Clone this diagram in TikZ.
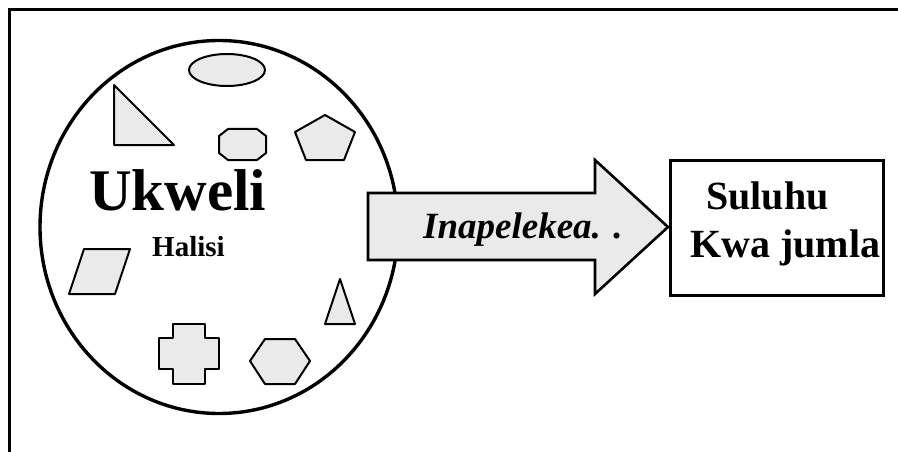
\documentclass[tikz,border=0pt]{standalone}
\usepackage{fontspec}
\setmainfont{Liberation Serif}
\usetikzlibrary{shapes.geometric}
\definecolor{shapegray}{RGB}{234,234,234}
\tikzset{
  shp/.style={draw=black, fill=shapegray, line width=2pt, line join=round},
  lbl/.style={inner sep=0pt, anchor=base west, font=\bfseries},
}
\begin{document}
\begin{tikzpicture}[x=1pt,y=-1pt]
\useasboundingbox (0,0) rectangle (898,452);
% frame
\draw[line width=3pt] (9,452) -- (9,10) -- (898,10);
% big circle
\node (world) [draw, line width=3.4pt, ellipse, minimum width=358pt, minimum height=373pt, inner sep=0pt] at (219,227) {};
% shapes inside
\node (oval) [shp, ellipse, minimum width=76pt, minimum height=32pt, inner sep=0pt] at (227,70) {};
\draw[shp] (114,85) -- (114,145) -- (174,145) -- cycle;
\draw[shp] (228,129) -- (257,129) -- (266,136) -- (266,153) -- (257,160) -- (228,160) -- (219,153) -- (219,136) -- cycle;
\draw[shp] (325,115) -- (355,132) -- (344,160) -- (306,160) -- (295,132) -- cycle;
\draw[shp] (84,249) -- (130,249) -- (115,294) -- (69,294) -- cycle;
\draw[shp] (340,279) -- (355,324) -- (325,324) -- cycle;
\draw[shp] (173,324) -- (205,324) -- (205,338) -- (219,338) -- (219,369) -- (205,369) -- (205,384) -- (173,384) -- (173,369) -- (159,369) -- (159,338) -- (173,338) -- cycle;
\draw[shp] (265,339) -- (295,339) -- (310,361) -- (295,384) -- (265,384) -- (250,361) -- cycle;
% texts in circle
\node (ukweli) [lbl, font=\fontsize{59}{60}\selectfont\bfseries] at (89,210) {Ukweli};
\node (halisi) [lbl, font=\fontsize{29}{30}\selectfont\bfseries] at (152,256) {Halisi};
% arrow
\draw[shp, line width=2.6pt, line join=miter] (368,193) -- (595,193) -- (595,160) -- (668,227) -- (595,294) -- (595,260) -- (368,260) -- cycle;
\node (lead) [lbl, font=\fontsize{37}{38}\selectfont\bfseries\itshape] at (423,238) {Inapelekea. .};
% result box
\node (box) [draw, line width=3pt, minimum width=213pt, minimum height=135pt, inner sep=0pt] at (776.5,227.5) {};
\node (sul) [lbl, font=\fontsize{40}{40}\selectfont\bfseries] at (706,209) {Suluhu};
\node (kwa) [lbl, font=\fontsize{40}{40}\selectfont\bfseries] at (690,257) {Kwa jumla};
\end{tikzpicture}
\end{document}
